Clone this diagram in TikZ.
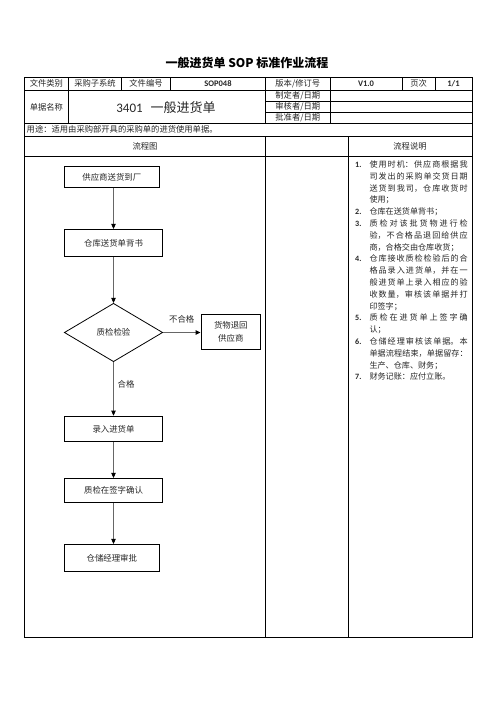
\documentclass[tikz,border=0pt]{standalone}
\usepackage{fontspec}
\setmainfont{Noto Sans CJK SC}
\newfontfamily\lat{Carlito}
\usetikzlibrary{shapes.geometric,arrows.meta}
\XeTeXlinebreaklocale "zh"
\XeTeXlinebreakskip=0pt plus 2pt
\tikzset{
  tbl/.style={line width=0.9pt, draw=black},
  cell/.style={inner sep=0pt, font=\fontsize{8.3}{10}\selectfont, text=black!85},
  flowbox/.style={draw=black, line width=0.8pt, inner sep=0pt, font=\fontsize{8.4}{10}\selectfont, text=black!85},
  flowarrow/.style={draw=black!60, line width=0.9pt, -{Triangle[length=5pt,width=4.5pt,color=black]}},
  flowlabel/.style={inner sep=0pt, font=\fontsize{8.4}{10}\selectfont, text=black!85}
}
\begin{document}
\begin{tikzpicture}[x=1pt,y=-1pt]
\useasboundingbox (0,0) rectangle (496,702);
% title
\node[inner sep=0pt, font=\bfseries\fontsize{12}{14}\selectfont] (title) at (247,63) {一般进货单 SOP 标准作业流程};
% table frame
\draw[tbl] (24.5,77) rectangle (472,637.3);
\draw[tbl] (24.5,90) -- (472,90);
\draw[tbl] (265.7,101.7) -- (472,101.7);
\draw[tbl] (265.7,112.7) -- (472,112.7);
\draw[tbl] (24.5,123.3) -- (472,123.3);
\draw[tbl] (24.5,136) -- (472,136);
\draw[tbl] (24.5,156) -- (472,156);
\foreach \x in {68.3,121.7,170,402.3,435} \draw[tbl] (\x,77) -- (\x,90);
\draw[tbl] (68.3,90) -- (68.3,123.3);
\draw[tbl] (265.7,77) -- (265.7,123.3);
\draw[tbl] (330,77) -- (330,123.3);
\draw[tbl] (265.7,136) -- (265.7,637.3);
\draw[tbl] (348.3,136) -- (348.3,637.3);
% header texts
\node[cell] (c1) at (46.4,83.6) {文件类别};
\node[cell] (c2) at (95,83.6) {采购子系统};
\node[cell] (c3) at (146,83.6) {文件编号};
\node[cell, font=\lat\bfseries\fontsize{8.5}{10}\selectfont] (c4) at (218,83.6) {SOP048};
\node[cell] (c5) at (297.8,83.6) {版本/修订号};
\node[cell, font=\lat\bfseries\fontsize{8.5}{10}\selectfont] (c6) at (366,83.6) {V1.0};
\node[cell] (c7) at (418.7,83.6) {页次};
\node[cell, font=\lat\bfseries\fontsize{8.5}{10}\selectfont] (c8) at (453.5,83.6) {1/1};
\node[cell] (c9) at (46.4,107) {单据名称};
\node[cell, font=\fontsize{13}{15}\selectfont] (c10) at (166,107.5) {{\lat 3401}\hspace{8pt}一般进货单};
\node[cell] (c11) at (297.8,96) {制定者/日期};
\node[cell] (c12) at (297.8,107.2) {审核者/日期};
\node[cell] (c13) at (297.8,118) {批准者/日期};
\node[cell, anchor=west] (c14) at (26.5,129.8) {用途：适用由采购部开具的采购单的进货使用单据。};
\node[cell] (c15) at (145,146.5) {流程图};
\node[cell] (c16) at (410,146.5) {流程说明};
% description
\node[anchor=north west, inner sep=0pt, text width=112.5pt, align=justify, text=black!85,
      font=\fontsize{8.1}{11.8}\selectfont] (desc) at (355,160.5) {%
\noindent\hangindent=14.3pt\hangafter=1\makebox[14.3pt][l]{\lat\bfseries 1.}使用时机：供应商根据我\linebreak 司发出的采购单交货日期\linebreak 送货到我司，仓库收货时\linebreak 使用；\par
\noindent\hangindent=14.3pt\hangafter=1\makebox[14.3pt][l]{\lat\bfseries 2.}仓库在送货单背书；\par
\noindent\hangindent=14.3pt\hangafter=1\makebox[14.3pt][l]{\lat\bfseries 3.}质检对该批货物进行检\linebreak 验，不合格品退回给供应\linebreak 商，合格交由仓库收货；\par
\noindent\hangindent=14.3pt\hangafter=1\makebox[14.3pt][l]{\lat\bfseries 4.}仓库接收质检检验后的合\linebreak 格品录入进货单，并在一\linebreak 般进货单上录入相应的验\linebreak 收数量，审核该单据并打\linebreak 印签字；\par
\noindent\hangindent=14.3pt\hangafter=1\makebox[14.3pt][l]{\lat\bfseries 5.}质检在进货单上签字确\linebreak 认；\par
\noindent\hangindent=14.3pt\hangafter=1\makebox[14.3pt][l]{\lat\bfseries 6.}仓储经理审核该单据。本\linebreak 单据流程结束，单据留存：\linebreak 生产、仓库、财务；\par
\noindent\hangindent=14.3pt\hangafter=1\makebox[14.3pt][l]{\lat\bfseries 7.}财务记账：应付立账。\par};
% flow chart
\node[flowbox, minimum width=95pt, minimum height=20.6pt] (b1) at (111.8,177) {供应商送货到厂};
\node[flowbox, minimum width=98.4pt, minimum height=27.4pt] (b2) at (113.5,243) {仓库送货单背书};
\node[flowbox, shape=diamond, aspect=1.7, minimum width=98.4pt, minimum height=58.4pt] (d) at (113.5,332.5) {质检检验};
\node[flowbox, minimum width=59.7pt, minimum height=35.3pt, align=center, font=\fontsize{8.4}{13.4}\selectfont] (ret) at (230.8,331.7) {货物退回\\供应商};
\node[flowbox, minimum width=98.4pt, minimum height=25.7pt] (b3) at (113.5,428.9) {录入进货单};
\node[flowbox, minimum width=98.4pt, minimum height=24.4pt] (b4) at (113.5,490.5) {质检在签字确认};
\node[flowbox, minimum width=95pt, minimum height=27.4pt] (b5) at (111.8,558) {仓储经理审批};
\draw[flowarrow] (b1.south -| b2.north) -- (b2.north);
\draw[flowarrow] (b2.south) -- (d.north);
\draw[flowarrow] (d.south) -- (b3.north);
\draw[flowarrow] (b3.south) -- (b4.north);
\draw[flowarrow] (b4.south) -- (b5.north -| b4.south);
\draw[flowarrow] (d.east) -- (ret.west |- d.east);
\node[flowlabel] (l1) at (181.7,319) {不合格};
\node[flowlabel] (l2) at (126,384) {合格};
\end{tikzpicture}
\end{document}
